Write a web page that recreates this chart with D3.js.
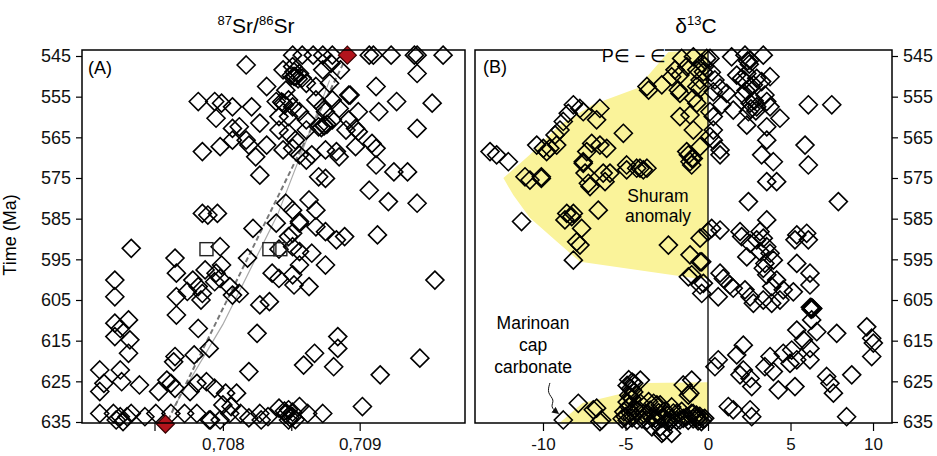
<!DOCTYPE html>
<html>
<head>
<meta charset="utf-8">
<script src="https://cdn.jsdelivr.net/npm/d3@7"></script>
<style>
  body { margin: 0; background: #fff; }
  svg { font-family: "Liberation Sans", Arial, sans-serif; }
</style>
</head>
<body>
<div id="chart"></div>
<script>
// time ticks (Ma), shared by both panels
const timeTicks = [545, 555, 565, 575, 585, 595, 605, 615, 625, 635];
const srTicks = [0.7075, 0.708, 0.7085, 0.709];
const srTickLabels = { "0.708": "0,708", "0.709": "0,709" };
const cTicks = [-10, -5, 0, 5, 10];

// (A) 87Sr/86Sr vs time : [ratio, Ma]
const srData = [
  [.70851,544.8],[.70858,544.8],[.70866,544.8],[.70873,544.8],[.70880,544.8],[.70907,544.8],[.70910,544.8],[.70923,544.8],[.70940,544.8],[.70942,544.8],[.70961,544.8],
  [.70817,547.2],[.70844,548.4],[.70851,547.6],[.70856,549.3],[.70853,550.1],[.70858,550.4],[.70852,550.0],[.70855,550.6],[.70850,549.8],[.70852,548.9],
  [.70873,548.4],[.70879,546.8],[.70886,548.4],[.70942,549.3],[.70832,552.5],[.70846,553.4],[.70861,551.7],[.70868,552.5],[.70878,551.7],[.70893,554.6],[.70912,552.5],
  [.70782,556.2],[.70794,556.2],[.70799,556.6],[.70807,557.5],[.70821,557.5],[.70795,560.3],[.70807,562.8],[.70812,562.4],[.70827,561.5],[.70807,565.7],
  [.70798,567.3],[.70817,565.7],[.70819,566.9],[.70832,566.9],[.70785,568.5],[.70824,569.8],[.70827,574.3],
  [.70839,556.2],[.70844,556.6],[.70848,555.8],[.70851,557.5],[.70843,556.3],[.70845,557.0],[.70841,559.9],[.70848,559.9],[.70856,558.7],[.70861,560.7],
  [.70868,555.8],[.70873,557.5],[.70875,558.7],[.70880,555.8],[.70885,557.9],[.70892,554.6],[.70899,558.7],[.70892,560.7],[.70914,558.7],[.70927,556.2],[.70953,556.6],[.70942,562.8],
  [.70841,563.2],[.70848,564.0],[.70853,565.7],[.70861,563.2],[.70870,562.4],[.70874,562.0],[.70874,562.2],[.70876,561.8],[.70872,562.6],[.70880,560.7],
  [.70890,563.2],[.70897,562.8],[.70899,563.6],[.70897,567.3],[.70909,566.5],[.70912,567.7],[.70912,571.8],[.70925,573.5],[.70935,573.5],[.70907,578.0],[.70921,580.8],[.70942,581.2],
  [.70844,568.1],[.70851,567.7],[.70856,569.3],[.70861,570.6],[.70865,569.3],[.70875,568.1],[.70883,568.5],[.70885,569.8],[.70870,574.7],[.70875,575.1],
  [.70846,581.2],[.70863,580.4],[.70868,582.9],[.70851,582.9],[.70856,585.7],[.70785,583.7],[.70789,584.1],[.70796,583.7],
  [.70822,587.4],[.70839,586.1],[.70848,589.4],[.70851,588.6],[.70856,586.1],[.70868,587.0],[.70875,588.2],[.70883,590.2],[.70889,589.4],[.70913,589.0],
  [.70733,592.3],[.70798,591.9],[.70841,592.5],[.70765,594.7],[.70799,596.4],[.70818,594.7],[.70766,598.4],[.70787,597.6],[.70795,598.4],[.70798,599.7],
  [.70778,600.1],[.70782,601.7],[.70774,602.9],[.70766,604.2],[.70785,603.4],[.70784,605.0],[.70794,600.5],[.70805,601.7],[.70807,603.8],[.70812,603.4],
  [.70721,600.1],[.70721,604.2],[.70836,598.4],[.70841,599.7],[.70851,598.8],[.70852,601.3],[.70856,596.4],[.70863,601.7],[.70865,593.5],[.70875,596.4],
  [.70851,591.9],[.70856,593.1],[.70827,606.2],[.70834,605.4],[.70721,610.7],[.70725,612.0],[.70731,609.9],[.70721,614.0],[.70732,614.8],[.70731,618.1],
  [.70766,608.7],[.70782,612.0],[.70765,618.9],[.70764,620.2],[.70779,618.5],[.70790,616.9],[.70825,613.2],[.70884,614.0],[.70884,616.9],[.70867,618.1],
  [.70859,621.0],[.70881,621.4],[.70819,622.6],[.70915,623.4],[.70944,619.3],[.70955,600.1],
  [.70710,622.2],[.70713,625.5],[.70710,627.5],[.70725,622.2],[.70726,625.1],[.70739,625.9],[.70753,627.5],[.70759,624.7],[.70762,625.5],[.70765,626.7],
  [.70776,627.5],[.70781,625.5],[.70788,625.1],[.70794,626.7],[.70802,627.9],[.70810,627.9],[.70806,631.2],[.70800,630.8],
  [.70710,632.9],[.70720,632.9],[.70725,633.7],[.70730,633.7],[.70733,632.9],[.70743,633.7],[.70751,632.9],[.70762,632.9],[.70772,632.9],[.70781,632.9],
  [.70791,634.5],[.70798,634.5],[.70805,632.9],[.70813,632.9],[.70819,634.0],[.70827,632.9],[.70828,634.5],[.70833,633.7],[.70841,631.6],[.70848,632.0],
  [.70851,633.7],[.70856,631.2],[.70862,632.9],[.70873,632.9],[.70902,631.2],[.70722,634.5],[.70727,634.9],[.70790,634.5],[.70848,634.5],
  [.70846,633.0],[.70849,633.9],[.70851,632.6],[.70845,632.3],[.70853,634.4]
];
const srSquares = [[.70788,592.5],[.70834,592.5],[.70842,592.5]];
const srRed = [[.70758,635.5],[.70891,544.8]];
const srTrendDashed = [[.70760,634.5],[.70890,545.5]];
const srTrendThin = [[.70763,632.0],[.70800,611.0],[.70840,584.0],[.70878,551.0]];

// (B) d13C vs time : [permil, Ma]
const cData = [
  [-1.6,545.6],[-0.89,545.2],[-0.38,546.8],[-0.08,545.6],[-2.0,548.4],[-1.7,549.7],[-1.29,547.6],[-0.68,548.4],[-0.28,548.9],[-2.2,550.1],
  [-3.7,552.5],[-3.6,553.4],[-2.8,552.1],[-1.8,553.4],[-1.7,554.2],[-0.68,552.5],[-0.48,550.9],[-0.89,555.4],[-0.68,556.6],[-1.7,559.9],
  [-1.09,559.5],[-0.89,563.2],[0.12,558.7],[-8.16,557.0],[-7.76,557.9],[-7.56,558.7],[-8.47,559.1],[-6.55,557.9],[-6.75,560.7],[-8.77,561.1],
  [-8.97,563.2],[-9.27,564.4],[-5.13,564.0],[-7.05,566.5],[-6.55,566.9],[-6.14,567.7],[-7.35,568.5],[-10.38,566.9],[-9.98,567.7],[-9.58,567.7],
  [-9.17,566.9],[-9.78,568.5],[-1.29,568.5],[-0.89,570.2],[-1.09,571.0],[-13.21,568.5],[-12.81,569.3],[-12.10,571.0],[-4.93,571.8],[-4.12,572.6],
  [-7.56,571.0],[-11.09,574.7],[-10.79,575.5],[-10.1,574.7],[-7.56,571.4],[-7.45,573.8],[-7.25,576.3],[-6.35,573.8],[-5.94,573.8],[-4.32,572.6],
  [-3.7,572.6],[-6.65,582.9],[-8.56,583.7],[-8.16,583.7],[-11.3,585.7],[-1.19,569.3],[-0.48,567.3],[-0.99,570.2],[-10.1,575.1],[-7.15,577.1],
  [-6.24,575.9],[-4.93,573.0],[-3.92,573.0],[-0.99,571.8],[-8.67,585.3],[-8.26,584.5],[-7.66,587.4],[-7.96,590.7],[-7.76,591.5],[-8.16,595.2],
  [-2.4,591.5],[-0.48,589.8],[0.0,588.2],[-1.09,593.9],[-0.38,595.6],[-0.99,598.8],[-0.28,600.9],[-0.48,595.6],[-1.19,599.3],[-0.48,601.3],[-0.38,603.4],
  [0.22,587.4],[0.73,587.8],[2.04,589.4],[2.55,591.1],[2.95,590.2],[3.35,589.8],[3.56,591.9],[3.15,593.1],[3.76,593.5],[3.96,595.2],
  [2.35,594.4],[5.27,590.2],[6.08,590.2],[5.38,596.0],[6.18,598.4],[6.18,601.3],[0.73,598.4],[0.93,599.7],[1.33,601.3],[0.62,604.2],
  [1.53,602.1],[2.24,602.5],[2.55,604.2],[2.75,605.8],[3.35,605.0],[3.56,598.8],[3.86,601.7],[4.16,600.1],[4.56,602.5],[4.36,605.0],
  [3.86,605.8],[5.17,603.0],[3.45,596.0],[3.35,597.2],[6.2,606.8],[6.3,607.0],[6.25,607.3],[6.35,607.1],[6.28,606.9],[6.28,609.9],
  [5.38,612.4],[6.59,612.8],[7.80,613.2],[9.62,611.6],[9.92,614.4],[10.02,615.6],[9.92,618.9],[2.14,616.1],[1.74,618.5],[0.62,619.7],
  [0.42,621.4],[3.76,618.9],[4.56,618.1],[5.07,617.3],[5.78,614.8],[6.18,616.9],[6.18,619.7],[4.97,620.6],[5.38,619.7],[3.45,621.4],
  [3.96,622.6],[2.14,622.2],[1.94,623.4],[2.55,624.3],[2.65,626.3],[4.26,627.1],[5.27,626.3],[7.19,623.8],[7.39,625.5],[7.60,627.9],
  [8.71,623.4],[8.40,633.7],[1.23,631.2],[1.53,632.0],[2.55,632.0],[2.65,633.7],
  [-8.77,634.5],[-7.86,630.4],[-6.75,631.6],[-6.44,634.5],[-0.99,624.7],[-1.5,625.9],[-1.19,628.4],
  [-4.5,625.5],[-4.6,627.1],[-4.7,628.8],[-4.8,631.2],[-5.0,633.7],[-4.3,634.5],[-4.1,630.4],[-4.1,624.7],[-3.9,632.9],[-3.3,630.4],
  [-3.2,634.1],[-2.9,636.2],[-2.5,633.3],[-2.3,634.9],[-1.9,632.9],[-1.7,634.5],[-1.3,633.7],[-0.9,632.9],[-0.7,634.1],[-0.4,634.9],
  [-0.2,634.1],[-1.1,627.9],[-6.95,632.0],[-6.55,634.9],[-3.1,630.8],[-3.4,636.2],[-2.7,637.4],[-2.8,637.8],[-2.2,637.8],
  [-5.2,634.2],[-4.9,634.6],[-4.6,634.0],[-4.0,634.2],[-3.7,634.6],[-3.4,634.0],[-3.1,634.5],[-2.8,634.1],[-2.5,634.7],[-2.2,634.2],
  [-1.9,634.6],[-1.5,634.1],[-1.2,634.6],[-0.9,634.2],[-0.6,634.7],[-5.1,632.5],[-4.7,632.8],[-4.3,632.2],[-3.5,632.1],[-3.0,632.7],
  [-2.6,632.3],[-2.1,632.8],[-1.6,632.4],[-1.0,632.9],[-0.7,633.3],[-0.5,633.6],[-4.8,624.6],[-4.6,625.2],[-4.9,626.0],[-4.7,626.8],
  [-4.5,627.6],[-4.8,628.4],[-4.6,629.3],[-4.9,630.1],[-4.7,631.0],[-4.4,631.8],[-3.6,630.0],[-2.9,630.8],[-2.2,631.3],[-0.8,633.8],[-0.3,634.3],
  [0.12,545.6],[1.43,545.2],[2.24,544.8],[2.55,546.0],[3.35,544.8],[1.74,549.7],[2.04,550.5],[2.35,549.3],[2.95,550.5],[3.76,550.1],
  [2.75,552.1],[3.25,551.3],[0.42,550.9],[0.73,552.9],[0.32,553.8],[1.13,554.2],[2.14,554.6],[2.55,556.6],[2.45,558.7],[0.83,557.0],
  [1.53,558.3],[2.95,557.5],[3.56,556.2],[3.76,557.5],[3.45,554.6],[4.36,560.3],[3.56,562.4],[2.35,562.0],[0.32,559.9],[0.32,563.2],
  [0.12,564.8],[0.32,565.7],[0.73,568.1],[3.56,565.7],[3.25,569.3],[3.96,571.0],[6.08,557.0],[7.50,557.0],[5.88,566.9],[6.08,571.8],
  [3.56,575.9],[4.16,575.9],[2.45,580.8],[7.90,580.8],[3.56,585.3],[1.94,588.2],[3.15,588.2],[5.38,589.0],[5.98,588.6],[0.73,569.3],
  [2.4,546.2],[2.5,547.0],[2.2,551.0],[2.6,552.5],[2.3,553.5],[2.8,556.0],[2.6,558.0],[2.9,558.5],[-0.2,547.5],[-0.5,553.0],[0.2,549.0]
];
// shaded excursions : [permil, Ma]
const shuramPoly = [[0,543.5],[-2.4,544.0],[-4.3,552.9],[-7.0,557.0],[-9.0,562.0],[-10.8,569.3],[-12.4,575.0],
  [-11.8,579.2],[-10.8,584.8],[-9.15,590.7],[-7.75,595.6],[-0.9,599.6],[0,599.6]];
const marinoanPoly = [[-9.0,635.25],[-7.6,630.3],[-5.15,627.9],[-3.7,625.4],[0,625.2],[0,635.25]];
const marinoanArrow = [[-9.58,625.4],[-9.76,627.9],[-9.27,629.6],[-9.58,631.3],[-9.09,632.8]];

const W = 937, H = 456;
const plotTop = 50, plotBottom = 423;
const panelA = { left: 82, right: 465 };
const panelB = { left: 475, right: 892 };

const svg = d3.select("#chart").append("svg")
  .attr("width", W).attr("height", H);

const defs = svg.append("defs");
defs.append("marker").attr("id", "arrow")
  .attr("viewBox", "0 0 10 10").attr("refX", 8).attr("refY", 5)
  .attr("markerWidth", 7).attr("markerHeight", 7).attr("orient", "auto")
  .append("path").attr("d", "M0,0L10,5L0,10Z").attr("fill", "#111");

const y = d3.scaleLinear().domain([545, 635]).range([56, 422]);
const xA = d3.scaleLinear().domain([0.70697, 0.70977]).range([panelA.left, panelA.right]);
const xB = d3.scaleLinear().domain([-14.12, 11.15]).range([panelB.left, panelB.right]);

const diamond = "M0,-9L9,0L0,9L-9,0Z";
const fontSize = 18;

// ---------- panel A ----------
let gA = svg.append("g");

gA.append("path")
  .attr("d", d3.line().x(d => xA(d[0])).y(d => y(d[1]))(srTrendThin))
  .attr("fill", "none").attr("stroke", "#aaa").attr("stroke-width", 1.2);
gA.append("path")
  .attr("d", d3.line().x(d => xA(d[0])).y(d => y(d[1]))(srTrendDashed))
  .attr("fill", "none").attr("stroke", "#777").attr("stroke-width", 2)
  .attr("stroke-dasharray", "5 3");

gA.selectAll(".ptA").data(srData).enter().append("path")
  .attr("transform", d => `translate(${xA(d[0])},${y(d[1])})`)
  .attr("d", diamond)
  .attr("fill", "none").attr("stroke", "#000").attr("stroke-width", 1.6);

gA.selectAll(".sq").data(srSquares).enter().append("rect")
  .attr("x", d => xA(d[0]) - 6.5).attr("y", d => y(d[1]) - 6.5)
  .attr("width", 13).attr("height", 13)
  .attr("fill", "none").attr("stroke", "#222").attr("stroke-width", 1.4);

gA.selectAll(".red").data(srRed).enter().append("path")
  .attr("transform", d => `translate(${xA(d[0])},${y(d[1])})`)
  .attr("d", diamond)
  .attr("fill", "#b3141c").attr("stroke", "#3a0000").attr("stroke-width", 1.2);

gA.append("rect")
  .attr("x", panelA.left).attr("y", plotTop)
  .attr("width", panelA.right - panelA.left).attr("height", plotBottom - plotTop)
  .attr("fill", "none").attr("stroke", "#000").attr("stroke-width", 1.5);

gA.append("g").attr("transform", `translate(${panelA.left},0)`)
  .call(d3.axisLeft(y).tickValues(timeTicks).tickSize(6).tickPadding(5));
gA.append("g").attr("class", "xaxis").attr("transform", `translate(0,${plotBottom})`)
  .call(d3.axisBottom(xA).tickValues(srTicks).tickSize(8).tickPadding(7)
    .tickFormat(d => srTickLabels[String(d)] || ""));

gA.append("text").attr("x", 88).attr("y", 74)
  .attr("font-size", fontSize).text("(A)");

let tA = gA.append("text").attr("x", 256).attr("y", 33)
  .attr("text-anchor", "middle").attr("font-size", 21);
tA.append("tspan").attr("font-size", 13).attr("dy", -8).text("87");
tA.append("tspan").attr("dy", 8).text("Sr/");
tA.append("tspan").attr("font-size", 13).attr("dy", -8).text("86");
tA.append("tspan").attr("dy", 8).text("Sr");

svg.append("text")
  .attr("transform", "translate(16,235) rotate(-90)")
  .attr("text-anchor", "middle").attr("font-size", fontSize)
  .text("Time (Ma)");

// ---------- panel B ----------
let gB = svg.append("g");
const polyLine = d3.line().x(d => xB(d[0])).y(d => y(d[1]));

gB.append("path").attr("d", polyLine(shuramPoly) + "Z").attr("fill", "#faf39a");
gB.append("path").attr("d", polyLine(marinoanPoly) + "Z").attr("fill", "#faf39a");

gB.append("line")
  .attr("x1", xB(0)).attr("x2", xB(0)).attr("y1", plotTop).attr("y2", plotBottom)
  .attr("stroke", "#000").attr("stroke-width", 1.3);

gB.selectAll(".ptB").data(cData).enter().append("path")
  .attr("transform", d => `translate(${xB(d[0])},${y(d[1])})`)
  .attr("d", diamond)
  .attr("fill", "none").attr("stroke", "#000").attr("stroke-width", 1.6);

// frame, top edge broken for the boundary label
gB.append("path")
  .attr("d", `M603,${plotTop}H${panelB.left}V${plotBottom}H${panelB.right}V${plotTop}H665`)
  .attr("fill", "none").attr("stroke", "#000").attr("stroke-width", 1.5);
gB.append("text").attr("x", 634).attr("y", 62)
  .attr("text-anchor", "middle").attr("font-size", 18)
  .text("P\u2208 \u2212 \u2208");

gB.append("g").attr("transform", `translate(${panelB.right},0)`)
  .call(d3.axisRight(y).tickValues(timeTicks).tickSize(6).tickPadding(5));
gB.append("g").attr("class", "xaxis").attr("transform", `translate(0,${plotBottom})`)
  .call(d3.axisBottom(xB).tickValues(cTicks).tickSize(8).tickPadding(7)
    .tickFormat(d => String(d)));

gB.append("text").attr("x", 483).attr("y", 73)
  .attr("font-size", fontSize).text("(B)");

let tB = gB.append("text").attr("x", 696).attr("y", 33)
  .attr("text-anchor", "middle").attr("font-size", 21);
tB.append("tspan").text("\u03b4");
tB.append("tspan").attr("font-size", 13).attr("dy", -8).text("13");
tB.append("tspan").attr("dy", 8).text("C");

// annotations
[["Shuram", 579.7], ["anomaly", 584.8]].forEach(([s, t]) => {
  gB.append("text").attr("x", xB(-3.03)).attr("y", y(t))
    .attr("text-anchor", "middle").attr("dominant-baseline", "middle")
    .attr("font-size", 17.5).text(s);
});
[["Marinoan", 611.1], ["cap", 616.5], ["carbonate", 621.7]].forEach(([s, t]) => {
  gB.append("text").attr("x", xB(-10.6)).attr("y", y(t))
    .attr("text-anchor", "middle").attr("dominant-baseline", "middle")
    .attr("font-size", 17.5).text(s);
});
gB.append("path")
  .attr("d", d3.line().x(d => xB(d[0])).y(d => y(d[1])).curve(d3.curveBasis)(marinoanArrow))
  .attr("fill", "none").attr("stroke", "#111").attr("stroke-width", 1)
  .attr("marker-end", "url(#arrow)");

// axis styling
svg.selectAll(".domain").remove();
svg.selectAll(".tick line").attr("stroke", "#000").attr("stroke-width", 1.2);
svg.selectAll(".tick text").attr("font-size", fontSize)
  .attr("font-family", "Liberation Sans, Arial, sans-serif").attr("fill", "#111");
svg.selectAll(".xaxis .tick text").attr("font-size", 17);
</script>
</body>
</html>
